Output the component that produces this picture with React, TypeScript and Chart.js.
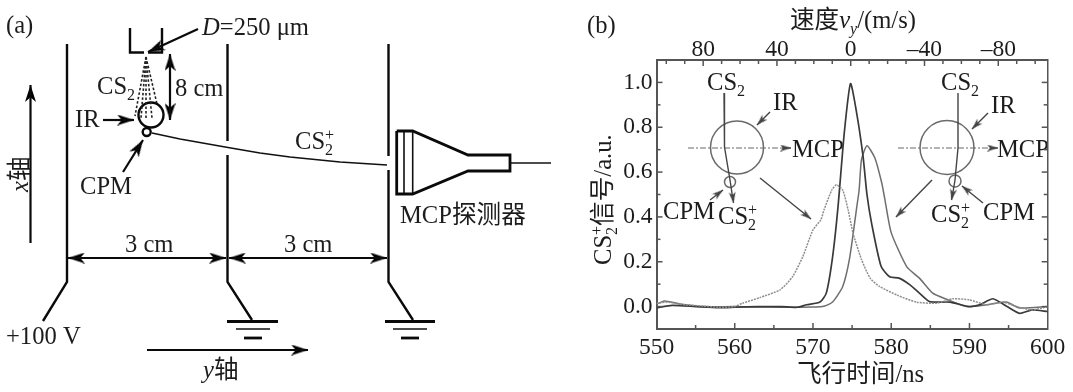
import React, { useEffect, useRef } from "react";
import { Chart, registerables } from "chart.js";

Chart.register(...registerables);

// ---------- panel (b) data ----------
const xTickLabelled = [550, 560, 570, 580, 590, 600];
const yTickLabelled = [0, 0.2, 0.4, 0.6, 0.8, 1.0];
const topTickValues = [-100, -90, -80, -70, -60, -50, -40, -30, -20, -10, 0, 10, 20, 30, 40, 50, 60, 70, 80, 90, 100];
const topTickLabelled = [80, 40, 0, -40, -80];

const timesA = [550, 551.5, 553, 556, 558, 560, 561, 563.2, 565.8, 567.4, 568.7, 570, 571, 571.4, 572.4, 573, 573.8, 574.5, 575.1, 576.2, 577.3, 578.5, 580.7, 583.2, 585.8, 587.9, 590, 592.2, 594.3, 596, 598, 600];
const valuesA = [0.015, 0.02, 0.01, 0.002, -0.003, 0, 0.015, 0.04, 0.075, 0.134, 0.223, 0.342, 0.387, 0.43, 0.52, 0.543, 0.52, 0.43, 0.33, 0.21, 0.127, 0.09, 0.052, 0.02, 0.015, 0.035, 0.03, 0.008, 0.02, 0, -0.015, 0];

const timesB = [550, 552, 555, 558, 560, 563, 566, 568, 569.2, 570.9, 571.7, 572.5, 573.2, 574, 574.8, 575.6, 576.4, 576.9, 577.5, 578.7, 579.8, 581, 582.4, 583.6, 584.9, 587.5, 590, 591.3, 593, 594.8, 596.4, 598, 600];
const valuesB = [-0.005, 0.005, 0, -0.005, -0.003, 0, 0, -0.003, 0.008, 0.02, 0.06, 0.22, 0.445, 0.775, 0.995, 0.86, 0.67, 0.5, 0.37, 0.18, 0.133, 0.127, 0.097, 0.06, 0.022, 0.02, 0, 0.008, 0.035, 0, -0.03, -0.015, -0.022];

const timesC = [550, 551, 553, 556, 560, 565, 570, 571.5, 572.5, 573.8, 574.7, 575.6, 575.9, 576.2, 576.9, 577.9, 578.8, 579.2, 580, 582, 583.6, 585.3, 587, 589.6, 592.2, 594.7, 596.4, 600];
const valuesC = [0.01, 0.025, 0.012, 0, 0, -0.003, -0.002, 0.003, 0.02, 0.09, 0.22, 0.445, 0.52, 0.655, 0.717, 0.664, 0.55, 0.476, 0.33, 0.177, 0.127, 0.06, 0.034, 0, 0.008, 0.02, -0.006, 0];

// ---------- sketch geometry, in sketch units ----------
type P = [number, number];
const platePaths: P[][] = [
  [[67, 44], [67, 282], [43, 321]],
  [[227.5, 44], [227.5, 141]],
  [[227.5, 155], [227.5, 282], [252, 320]],
  [[388.5, 44], [388.5, 156]],
  [[388.5, 170], [388.5, 282], [413, 320]],
  [[130, 28], [130, 52.5], [144, 52.5]],
  [[162, 28], [162, 52.5], [148, 52.5]],
];
const groundPaths: P[][] = [
  [[227, 321.5], [278, 321.5]],
  [[385, 321.5], [435, 321.5]],
  [[244, 338], [262, 338]],
  [[401, 338], [419, 338]],
  [[396.7, 131], [412.7, 131], [468, 155], [510, 155], [510, 171], [468, 171], [412.7, 194], [396.7, 194], [396.7, 131]],
];
const thinPaths: P[][] = [
  [[236, 329], [270, 329]],
  [[393, 329], [427, 329]],
  [[404, 131], [404, 194]],
  [[412.7, 131], [412.7, 194]],
  [[511, 163], [551, 163]],
  [[152, 133], [180, 139], [228, 147.5], [260, 153], [290, 157], [340, 162], [387, 165]],
];
const beamPaths: P[][] = [
  [[146, 57], [135, 116]],
  [[146, 57], [141, 118]],
  [[146, 57], [146, 120]],
  [[146, 57], [152, 118]],
  [[146, 57], [157, 104]],
];
const sketchCircles: [number, number, number][] = [[151, 115, 12.5], [146.7, 132, 4]];
type Arrow = { from: P; to: P; both?: boolean };
const sketchArrows: Arrow[] = [
  { from: [198, 29], to: [148, 52] },
  { from: [170, 54], to: [170, 120], both: true },
  { from: [103, 120], to: [134, 120] },
  { from: [123, 172], to: [143, 140] },
  { from: [30.5, 243], to: [30.5, 85] },
  { from: [68, 258], to: [226, 258], both: true },
  { from: [229, 258], to: [387, 258], both: true },
  { from: [147, 350], to: [308, 350] },
];

const insetCurves: P[][] = [
  [[724, 93], [724.5, 147], [730, 180], [733, 200]],
  [[958, 93], [958, 148], [955, 180], [952, 198]],
];
const insetAxes: P[][] = [
  [[688, 148], [782, 148]],
  [[898, 148], [990, 148]],
];
const insetCircles: [number, number, number][] = [[737, 147.5, 26.5], [730, 182, 5.5], [947, 147.5, 27], [955, 181, 6]];
const insetArrows: Arrow[] = [
  { from: [782, 148], to: [791, 148] },
  { from: [990, 148], to: [998, 148] },
  { from: [732.5, 195], to: [733.5, 203] },
  { from: [953, 192], to: [951.5, 200] },
  { from: [770, 112], to: [757, 125] },
  { from: [988, 113], to: [972, 129] },
  { from: [710, 200], to: [723, 190] },
  { from: [983, 203], to: [962, 186] },
  { from: [760, 178], to: [811, 219] },
  { from: [932, 180], to: [896, 217] },
];

// ---------- texts ----------
type Run = { t?: string; i?: boolean; sub?: string; sup?: string; subI?: boolean };
type Label = { x: number; y: number; runs: Run[]; rot?: boolean };
const CS2: Run[] = [{ t: "CS" }, { sub: "2" }];
const CS2plus: Run[] = [{ t: "CS" }, { sub: "2", sup: "+" }];
const sketchLabels: Label[] = [
  { x: 6, y: 33, runs: [{ t: "(a)" }] },
  { x: 202, y: 35, runs: [{ t: "D", i: true }, { t: "=250 μm" }] },
  { x: 97, y: 94, runs: CS2 },
  { x: 175, y: 96, runs: [{ t: "8 cm" }] },
  { x: 75, y: 127, runs: [{ t: "IR" }] },
  { x: 80, y: 194, runs: [{ t: "CPM" }] },
  { x: 28, y: 192, rot: true, runs: [{ t: "x", i: true }, { t: "轴" }] },
  { x: 125, y: 252, runs: [{ t: "3 cm" }] },
  { x: 284, y: 252, runs: [{ t: "3 cm" }] },
  { x: 6, y: 344, runs: [{ t: "+100 V" }] },
  { x: 203, y: 378, runs: [{ t: "y", i: true }, { t: "轴" }] },
  { x: 295, y: 149, runs: CS2plus },
  { x: 400, y: 223, runs: [{ t: "MCP探测器" }] },
  { x: 587, y: 33, runs: [{ t: "(b)" }] },
  { x: 790, y: 28, runs: [{ t: "速度" }, { t: "v", i: true }, { sub: "y", subI: true }, { t: "/(m/s)" }] },
  { x: 797, y: 382, runs: [{ t: "飞行时间/ns" }] },
  { x: 611, y: 265, rot: true, runs: [{ t: "CS" }, { sub: "2", sup: "+" }, { t: "信号/a.u." }] },
  { x: 707, y: 90, runs: CS2 },
  { x: 773, y: 110, runs: [{ t: "IR" }] },
  { x: 792, y: 157, runs: [{ t: "MCP" }] },
  { x: 663, y: 219, runs: [{ t: "CPM" }] },
  { x: 718, y: 224, runs: CS2plus },
  { x: 941, y: 90, runs: CS2 },
  { x: 991, y: 113, runs: [{ t: "IR" }] },
  { x: 997, y: 157, runs: [{ t: "MCP" }] },
  { x: 931, y: 222, runs: CS2plus },
  { x: 983, y: 220, runs: [{ t: "CPM" }] },
];

const FAMILY = '"Liberation Serif", "Noto Sans CJK SC", serif';
const INK = "#1c1c1c";
const AXIS = "#555555";
const INSET = "#6a6a6a";

function zip(xs: number[], ys: number[]) {
  return xs.map((x, i) => ({ x, y: ys[i] }));
}
const toPts = (p: P[]) => p.map(([x, y]) => ({ x, y }));

function headSprite(len: number, wid: number, color: string) {
  const c = document.createElement("canvas");
  c.width = wid;
  c.height = len;
  const g = c.getContext("2d")!;
  g.fillStyle = color;
  g.beginPath();
  g.moveTo(wid / 2, 0);
  g.lineTo(wid, len);
  g.lineTo(wid / 2, len * 0.72);
  g.lineTo(0, len);
  g.closePath();
  g.fill();
  return c;
}

function pathSet(points: P[], width: number, color: string, dash: number[] = []) {
  return {
    data: toPts(points),
    showLine: true,
    borderColor: color,
    borderWidth: width,
    borderDash: dash,
    pointRadius: 0,
    tension: 0,
    clip: false,
  };
}
function circleSet(c: [number, number, number], width: number, color: string) {
  return {
    data: [{ x: c[0], y: c[1] }],
    showLine: false,
    pointStyle: "circle",
    pointRadius: c[2],
    pointBorderWidth: width,
    pointBorderColor: color,
    pointBackgroundColor: "rgba(0,0,0,0)",
    clip: false,
  };
}
function headSet(from: P, to: P, sprite: HTMLCanvasElement) {
  const dx = to[0] - from[0];
  const dy = to[1] - from[1];
  const d = Math.hypot(dx, dy);
  const h = sprite.height / 2;
  return {
    data: [{ x: to[0] - (dx / d) * h, y: to[1] - (dy / d) * h }],
    showLine: false,
    pointStyle: sprite,
    pointRadius: 5,
    pointRotation: (Math.atan2(dx, -dy) * 180) / Math.PI,
    clip: false,
  };
}
function arrowSets(a: Arrow, width: number, color: string, sprite: HTMLCanvasElement) {
  const out: any[] = [pathSet([a.from, a.to], width, color), headSet(a.from, a.to, sprite)];
  if (a.both) out.push(headSet(a.to, a.from, sprite));
  return out;
}

function drawLabel(ctx: CanvasRenderingContext2D, l: Label, px: number, py: number) {
  const size = 24.6;
  const subSize = 16;
  ctx.save();
  ctx.translate(px, py);
  if (l.rot) ctx.rotate(-Math.PI / 2);
  ctx.fillStyle = INK;
  ctx.textBaseline = "alphabetic";
  ctx.textAlign = "left";
  let x = 0;
  for (const r of l.runs) {
    if (r.t) {
      ctx.font = `${r.i ? "italic " : ""}${size}px ${FAMILY}`;
      ctx.fillText(r.t, x, 0);
      x += ctx.measureText(r.t).width;
    } else {
      ctx.font = `${r.subI ? "italic " : ""}${subSize}px ${FAMILY}`;
      let w = 0;
      if (r.sub) {
        ctx.fillText(r.sub, x, 6);
        w = ctx.measureText(r.sub).width;
      }
      if (r.sup) {
        ctx.fillText(r.sup, x, -9);
        w = Math.max(w, ctx.measureText(r.sup).width);
      }
      x += w;
    }
  }
  ctx.restore();
}

const labelPlugin = {
  id: "sketchLabels",
  afterDraw(chart: any) {
    const { x, y } = chart.scales;
    for (const l of sketchLabels) {
      drawLabel(chart.ctx, l, x.getPixelForValue(l.x), y.getPixelForValue(l.y));
    }
  },
};

const isLabelled = (id: string, v: number) => {
  if (id === "x") return xTickLabelled.includes(v);
  if (id === "x2") return topTickLabelled.includes(v);
  return yTickLabelled.some((t) => Math.abs(t - v) < 1e-6);
};

const inwardTicks = {
  id: "inwardTicks",
  afterDatasetsDraw(chart: any) {
    const { ctx, chartArea: a } = chart;
    ctx.save();
    ctx.strokeStyle = AXIS;
    ctx.lineWidth = 1.5;
    for (const id of ["x", "x2", "y", "y2"]) {
      const s = chart.scales[id];
      for (const t of s.ticks) {
        if (id[0] === "y" && (Math.abs(t.value + 0.1) < 1e-6 || Math.abs(t.value - 1.1) < 1e-6)) continue;
        if (id === "x" && (t.value === 550 || t.value === 600)) continue;
        const len = isLabelled(id, t.value) ? 6 : 4;
        const p = s.getPixelForValue(t.value);
        ctx.beginPath();
        if (id === "x") { ctx.moveTo(p, a.bottom); ctx.lineTo(p, a.bottom - len); }
        if (id === "x2") { ctx.moveTo(p, a.top); ctx.lineTo(p, a.top + len); }
        if (id === "y") { ctx.moveTo(a.left, p); ctx.lineTo(a.left + len, p); }
        if (id === "y2") { ctx.moveTo(a.right, p); ctx.lineTo(a.right - len, p); }
        ctx.stroke();
      }
    }
    ctx.restore();
  },
};

const tickFont = { family: FAMILY, size: 23.5 };

export default function App() {
  const sketchRef = useRef<HTMLCanvasElement>(null);
  const plotRef = useRef<HTMLCanvasElement>(null);

  useEffect(() => {
    const big = headSprite(17, 11, "#000000");
    const insetHead = headSprite(11, 7, "#444444");

    const datasets: any[] = [
      ...platePaths.map((p) => pathSet(p, 2.4, "#0a0a0a")),
      ...groundPaths.map((p) => pathSet(p, 2.8, "#0a0a0a")),
      ...thinPaths.map((p) => pathSet(p, 1.6, "#111111")),
      ...beamPaths.map((p) => pathSet(p, 1.6, "#222222", [2.5, 2])),
      ...sketchCircles.map((c) => circleSet(c, 2.4, "#0a0a0a")),
      ...sketchArrows.flatMap((a) => arrowSets(a, 2.2, "#0a0a0a", big)),
      ...insetCurves.map((p) => pathSet(p, 1.4, "#444444")),
      ...insetAxes.map((p) => pathSet(p, 1.2, INSET, [6, 2, 2, 2])),
      ...insetCircles.map((c) => circleSet(c, 1.5, INSET)),
      ...insetArrows.flatMap((a) => arrowSets(a, 1.4, "#444444", insetHead)),
    ];

    const sketch = new Chart(sketchRef.current!, {
      type: "scatter",
      data: { datasets },
      plugins: [labelPlugin],
      options: {
        animation: false,
        responsive: false,
        devicePixelRatio: 1,
        layout: { padding: 0, autoPadding: false },
        plugins: { legend: { display: false }, tooltip: { enabled: false } },
        events: [],
        scales: {
          x: { type: "linear", display: false, min: 0, max: 1073 },
          y: { type: "linear", display: false, min: 0, max: 392, reverse: true },
        },
      },
    } as any);

    const leftW = 50;
    const topH = 32;
    const botH = 34;
    const plot = new Chart(plotRef.current!, {
      type: "line",
      data: {
        datasets: [
          { label: "CPM (left)", data: zip(timesA, valuesA), borderColor: "#8f8f8f", borderWidth: 1.5, borderDash: [2, 1], pointRadius: 0, tension: 0.2 },
          { label: "no field", data: zip(timesB, valuesB), borderColor: "#3a3a3a", borderWidth: 1.7, pointRadius: 0, tension: 0.2 },
          { label: "CPM (right)", data: zip(timesC, valuesC), borderColor: "#6e6e6e", borderWidth: 1.5, pointRadius: 0, tension: 0.2 },
        ],
      },
      plugins: [inwardTicks],
      options: {
        animation: false,
        responsive: false,
        devicePixelRatio: 1,
        layout: { padding: { left: 656.5 - leftW, right: 25.3, top: 60 - topH, bottom: 63 - botH }, autoPadding: false },
        plugins: { legend: { display: false }, tooltip: { enabled: false } },
        events: [],
        scales: {
          x: {
            type: "linear", position: "bottom", min: 550, max: 600,
            afterFit: (s: any) => { s.height = botH; },
            grid: { display: false, drawTicks: false },
            border: { display: true, color: AXIS, width: 2 },
            ticks: {
              stepSize: 5, autoSkip: false, maxRotation: 0, padding: 5, color: INK, font: tickFont,
              callback: (v: number) => (xTickLabelled.includes(v) ? String(v) : ""),
            },
          },
          x2: {
            type: "linear", axis: "x", position: "top", min: -106.8, max: 105.3, reverse: true,
            afterFit: (s: any) => { s.height = topH; },
            afterBuildTicks: (s: any) => { s.ticks = topTickValues.map((value) => ({ value })); },
            grid: { display: false, drawTicks: false },
            border: { display: true, color: AXIS, width: 2 },
            ticks: {
              autoSkip: false, maxRotation: 0, padding: -4, color: INK, font: tickFont,
              callback: (v: number) => (topTickLabelled.includes(v) ? (v < 0 ? "–" + Math.abs(v) : String(v)) : ""),
            },
          },
          y: {
            type: "linear", position: "left", min: -0.1, max: 1.1,
            afterFit: (s: any) => { s.width = leftW; },
            grid: { display: false, drawTicks: false },
            border: { display: true, color: AXIS, width: 2 },
            ticks: {
              stepSize: 0.1, autoSkip: false, padding: 4, color: INK, font: tickFont,
              callback: (v: number) => (yTickLabelled.some((t) => Math.abs(t - v) < 1e-6) ? Math.abs(v).toFixed(1) : ""),
            },
          },
          y2: {
            type: "linear", axis: "y", position: "right", min: -0.1, max: 1.1,
            afterFit: (s: any) => { s.width = 0; },
            grid: { display: false, drawTicks: false },
            border: { display: true, color: AXIS, width: 1.5 },
            ticks: { stepSize: 0.1, autoSkip: false, font: tickFont, callback: () => "" },
          },
        },
      },
    } as any);

    return () => {
      sketch.destroy();
      plot.destroy();
    };
  }, []);

  const layer: React.CSSProperties = { position: "absolute", left: 0, top: 0, width: 1073, height: 392 };
  return (
    <div style={{ position: "absolute", left: 0, top: 0, width: 1073, height: 392, background: "#fff", overflow: "hidden" }}>
      <canvas ref={sketchRef} width={1073} height={392} style={layer} />
      <canvas ref={plotRef} width={1073} height={392} style={layer} />
    </div>
  );
}
